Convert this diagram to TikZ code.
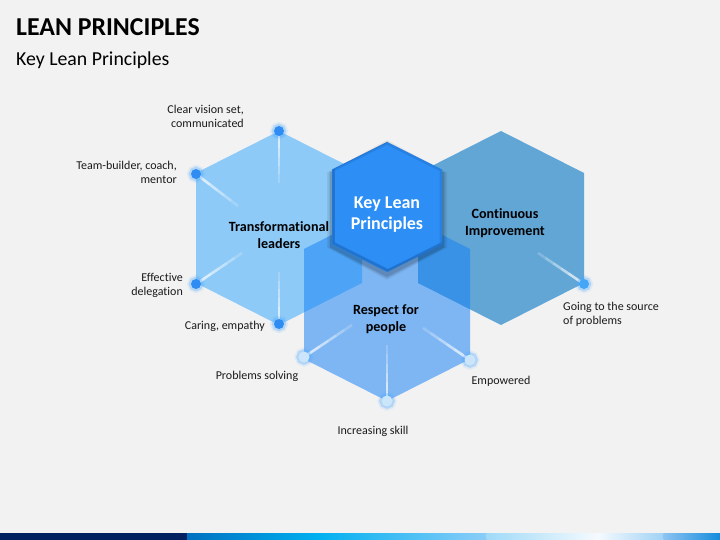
\documentclass[tikz,border=0pt]{standalone}
\usepackage{fontspec}
\setmainfont{Carlito}[Ligatures=NoCommon]
\usetikzlibrary{calc}
\definecolor{bg}{HTML}{F2F2F2}
\definecolor{hexT}{HTML}{8DCAF7}
\definecolor{hexC}{HTML}{62A6D6}
\definecolor{hexR}{HTML}{1480F5}
\definecolor{hexK}{HTML}{2D8FF6}
\definecolor{hexKdark}{HTML}{1558A8}
\definecolor{dotA}{HTML}{2F8CF2}
\definecolor{dotB}{HTML}{CBE5FB}
\definecolor{dotC}{HTML}{45A6F7}
\definecolor{glowA}{HTML}{4FA8FF}
\definecolor{txt}{HTML}{1A1A1A}
\definecolor{navy}{HTML}{002060}
\tikzset{
  lbl/.style={text=txt, font=\fontsize{12}{14}\selectfont, inner sep=0pt},
  hexlbl/.style={text=black, font=\fontsize{14.1}{17}\selectfont\bfseries, align=center, inner sep=0pt},
  spk/.style={draw=white, line width=2.6pt},
  dotbase/.style={circle, inner sep=0pt, minimum size=10pt,
     preaction={draw=glowA, line width=8pt, opacity=0.12},
     preaction={draw=glowA, line width=4.5pt, opacity=0.3}},
  dotT/.style={dotbase, fill=dotA},
  dotR/.style={dotbase, fill=dotB, minimum size=11pt},
  dotCI/.style={dotbase, fill=dotC},
}
\newcommand\myspoke[2]{%
  \foreach \i in {0,...,5}{%
    \pgfmathsetmacro\op{0.8-0.12*\i}%
    \draw[spk, opacity=\op] ($(#1)!\i/6!(#2)$) -- ($(#1)!{(\i+1)/6}!(#2)$);%
  }}
\begin{document}
\begin{tikzpicture}[x=1pt,y=-1pt]
\useasboundingbox (0,0) rectangle (720,540);
\fill[bg] (0,0) rectangle (720,540);

% title
\node[anchor=base west, inner sep=0pt, font=\fontsize{25.8}{30}\selectfont\bfseries] (title) at (16,36) {LEAN PRINCIPLES};
\node[anchor=base west, inner sep=0pt, font=\fontsize{19.8}{23}\selectfont] (subtitle) at (16,66) {Key Lean Principles};

% hexagons
\fill[hexT] (279,131) -- (362,173) -- (362,283) -- (279,325) -- (196,283) -- (196,173) -- cycle;
\fill[hexC] (501,131) -- (584,173) -- (584,283) -- (501,325) -- (418,283) -- (418,173) -- cycle;
\fill[hexR, opacity=0.52] (387,207) -- (470,249) -- (470,359) -- (387,401) -- (304,359) -- (304,249) -- cycle;

% key hexagon shadow
\foreach \s/\o in {5/0.06,3.5/0.08,2/0.12}{
  \fill[black, opacity=\o, shift={(0,3)}] (387,142-\s) -- (442+\s,169.5) -- (442+\s,244.5) -- (387,272+\s) -- (332-\s,244.5) -- (332-\s,169.5) -- cycle;
}
\fill[hexK] (387,142) -- (442,169.5) -- (442,244.5) -- (387,272) -- (332,244.5) -- (332,169.5) -- cycle;
\begin{scope}
  \clip (387,142) -- (442,169.5) -- (442,244.5) -- (387,272) -- (332,244.5) -- (332,169.5) -- cycle;
  \draw[hexKdark, line width=5pt, opacity=0.25] (387,142) -- (442,169.5) -- (442,244.5) -- (387,272) -- (332,244.5) -- (332,169.5) -- cycle;
  \draw[hexKdark, line width=2.5pt, opacity=0.35, shift={(1.5,-1.5)}] (387,142) -- (442,169.5) -- (442,244.5) -- (387,272) -- (332,244.5) -- (332,169.5) -- cycle;
\end{scope}

% vertex coordinates and spoke ends
\coordinate (vT1) at (279,131);  \coordinate (eT1) at (279,183);
\coordinate (vT2) at (196,174);  \coordinate (eT2) at (238,206);
\coordinate (vT3) at (196,284);  \coordinate (eT3) at (242,253);
\coordinate (vT4) at (279,324);  \coordinate (eT4) at (279,272);
\coordinate (vR1) at (304,357);  \coordinate (eR1) at (352,325);
\coordinate (vR2) at (387,401);  \coordinate (eR2) at (387,345);
\coordinate (vR3) at (470,360);  \coordinate (eR3) at (423,328);
\coordinate (vC1) at (584,284);  \coordinate (eC1) at (538,253);

\myspoke{vT1}{eT1}
\myspoke{vT2}{eT2}
\myspoke{vT3}{eT3}
\myspoke{vT4}{eT4}
\myspoke{vR1}{eR1}
\myspoke{vR2}{eR2}
\myspoke{vR3}{eR3}
\myspoke{vC1}{eC1}

% dots
\node[dotT] (dT1) at (vT1) {};
\node[dotT] (dT2) at (vT2) {};
\node[dotT] (dT3) at (vT3) {};
\node[dotT] (dT4) at (vT4) {};
\node[dotR] (dR1) at (vR1) {};
\node[dotR] (dR2) at (vR2) {};
\node[dotR] (dR3) at (vR3) {};
\node[dotCI] (dC1) at (vC1) {};

% hexagon labels
\node[hexlbl] (tT) at (279,235) {Transformational\\leaders};
\node[hexlbl] (tC) at (505,223) {Continuous\\Improvement};
\node[hexlbl] (tR) at (386,319) {Respect for\\people};
\node[hexlbl, text=white, font=\fontsize{18}{21}\selectfont\bfseries] (tK) at (387,215) {Key Lean\\Principles};

% outer labels
\node[lbl, align=right, anchor=east] (l1) at (244,116) {Clear vision set,\\communicated};
\node[lbl, align=right, anchor=east] (l2) at (177,172) {Team-builder, coach,\\mentor};
\node[lbl, align=right, anchor=east] (l3) at (183,285) {Effective\\delegation};
\node[lbl, anchor=east] (l4) at (265,326) {Caring, empathy};
\node[lbl] (l5) at (257,376) {Problems solving};
\node[lbl] (l6) at (373,431) {Increasing skill};
\node[lbl] (l7) at (501,381) {Empowered};
\node[lbl, align=left, anchor=west] (l8) at (563,314) {Going to the source\\of problems};

% bottom bar
\fill[navy] (0,533) rectangle (187.5,540);
\shade[left color={rgb,255:red,0;green,112;blue,192}, right color={rgb,255:red,0;green,176;blue,240}] (187,533) rectangle (318,540);
\shade[left color={rgb,255:red,0;green,176;blue,240}, right color={rgb,255:red,140;green,205;blue,248}] (317.5,533) rectangle (487,540);
\shade[left color={rgb,255:red,160;green,218;blue,248}, right color={rgb,255:red,245;green,250;blue,254}] (486.5,533) rectangle (598,540);
\shade[left color={rgb,255:red,245;green,250;blue,254}, right color={rgb,255:red,160;green,210;blue,245}] (597.5,533) rectangle (664,540);
\shade[left color={rgb,255:red,140;green,195;blue,242}, right color={rgb,255:red,20;green,140;blue,220}] (663.5,533) rectangle (720,540);
\end{tikzpicture}
\end{document}
